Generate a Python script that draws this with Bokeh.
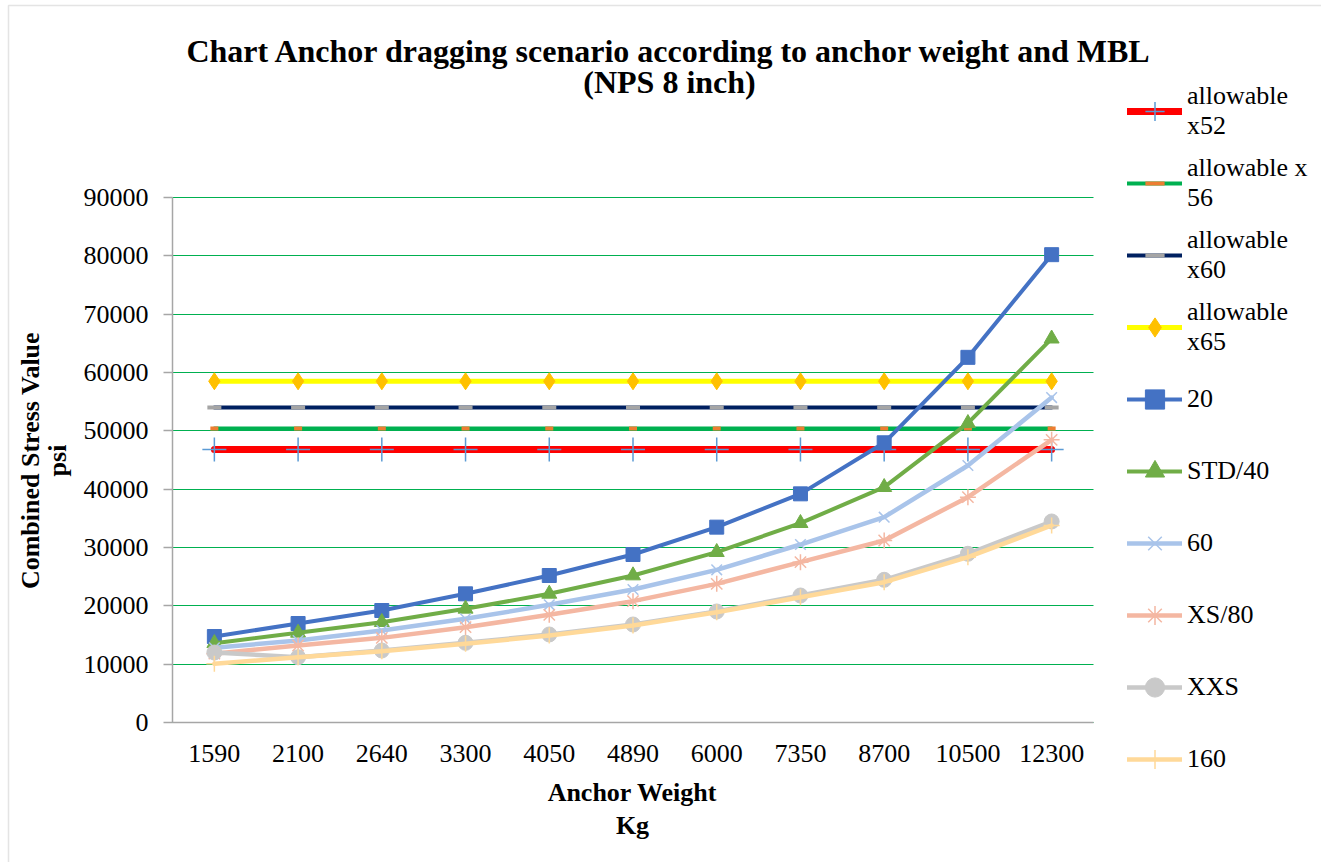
import math
from bokeh.plotting import figure
from bokeh.models import (ColumnDataSource, Range1d, Legend, LegendItem, FixedTicker, Label,
                          BoxAnnotation, Grid)
from bokeh.embed import file_html
from bokeh.resources import INLINE

# ---------------- data ----------------
anchor_weight = ["1590", "2100", "2640", "3300", "4050", "4890", "6000", "7350", "8700", "10500", "12300"]
allow_x52 = [46800] * 11
allow_x56 = [50400] * 11
allow_x60 = [54000] * 11
allow_x65 = [58500] * 11
s_20 = [14740, 16970, 19200, 22060, 25200, 28800, 33490, 39200, 47950, 62600, 80200]
s_std40 = [13600, 15370, 17200, 19490, 22060, 25200, 29200, 34170, 40340, 51310, 65800]
s_60 = [12800, 14060, 15770, 17770, 20170, 22800, 26170, 30510, 35200, 44060, 55700]
s_xs80 = [11800, 13200, 14510, 16340, 18460, 20800, 23770, 27490, 31200, 38630, 48460]
s_xxs = [12000, 11200, 12340, 13660, 15090, 16800, 19030, 21770, 24460, 28920, 34460]
s_160 = [10060, 11200, 12230, 13490, 14910, 16630, 18900, 21480, 24050, 28340, 33770]
y_ticks = [0, 10000, 20000, 30000, 40000, 50000, 60000, 70000, 80000, 90000]

FONT = "Liberation Serif"
W, H = 1321, 862
# plot area (pixels) inside the canvas
PL, PR, PT, PB = 172, 1093, 197, 722
n_cat = len(anchor_weight)
Y_MAX = y_ticks[-1]

xs_per_px = n_cat / (PR - PL)
ys_per_px = Y_MAX / (PB - PT)


def px2x(px):
    return (px - PL) * xs_per_px


def px2y(py):
    return (PB - py) * ys_per_px


# category centres on a numeric axis
x_pos = [i + 0.5 for i in range(n_cat)]

p = figure(width=W, height=H, x_range=Range1d(px2x(0), px2x(W)), y_range=Range1d(px2y(H), px2y(0)),
           output_backend="svg", toolbar_location=None,
           min_border_left=0, min_border_right=0, min_border_top=0, min_border_bottom=0)
p.outline_line_color = None
p.background_fill_color = "white"
p.border_fill_color = "white"

# axes
xa, ya = p.xaxis[0], p.yaxis[0]
for ax in (xa, ya):
    ax.axis_line_color = "#A6A6A6"
    ax.axis_line_width = 1.5
    ax.major_label_text_font = FONT
    ax.major_label_text_font_size = "26px"
    ax.major_label_text_color = "black"
    ax.minor_tick_line_color = None
    ax.fixed_location = 0

xa.ticker = FixedTicker(ticks=x_pos)
xa.major_label_overrides = {x: lab for x, lab in zip(x_pos, anchor_weight)}
xa.bounds = (0, n_cat)
xa.major_tick_line_color = None
xa.major_label_standoff = 16

ya.ticker = FixedTicker(ticks=y_ticks)
ya.bounds = (0, Y_MAX)
ya.major_tick_line_color = "#A6A6A6"
ya.major_tick_line_width = 1.5
ya.major_tick_out = 9
ya.major_tick_in = 0
ya.major_label_standoff = 15

# grid
p.xgrid.grid_line_color = None
gy = p.ygrid[0]
gy.ticker = ya.ticker
gy.grid_line_color = "#00B050"
gy.grid_line_width = 1
if "cross_bounds" in Grid.properties():
    gy.bounds = (0, Y_MAX)
    gy.cross_bounds = (0, n_cat)
else:
    gy.grid_line_color = None
    p.segment(x0=[0] * (len(y_ticks) - 1), x1=[n_cat] * (len(y_ticks) - 1), y0=y_ticks[1:], y1=y_ticks[1:],
              line_color="#00B050", line_width=1)

src = ColumnDataSource(dict(x=x_pos, x52=allow_x52, x56=allow_x56, x60=allow_x60, x65=allow_x65,
                            s20=s_20, std40=s_std40, s60=s_60, xs80=s_xs80, xxs=s_xxs, s160=s_160))

series = [
    # (col, label, line color, line width, marker, marker fill, marker line, size, marker lw)
    ("x52", "allowable\nx52", "#FF0000", 7, "cross", None, "#5B9BD5", 24, 1.5),
    ("x56", "allowable x\n56", "#00B050", 4, "dash", None, "#ED7D31", 8, 4),
    ("x60", "allowable\nx60", "#002060", 4, "dash", None, "#A5A5A5", 14, 4),
    ("x65", "allowable\nx65", "#FFFF00", 5, "diamond", "#FFC000", "#FFC000", 17, 1),
    ("s20", "20", "#4472C4", 4, "square", "#4472C4", "#4472C4", 14, 1),
    ("std40", "STD/40", "#70AD47", 4, "triangle", "#70AD47", "#70AD47", 15, 1),
    ("s60", "60", "#A9C4EA", 4.5, "x", None, "#A9C4EA", 15, 1.5),
    ("xs80", "XS/80", "#F4B7A2", 4.5, "asterisk", None, "#F4B7A2", 16, 1.5),
    ("xxs", "XXS", "#C9C9C9", 4.5, "circle", "#C9C9C9", "#C9C9C9", 15, 1),
    ("s160", "160", "#FFD999", 4.5, "cross", None, "#FFD999", 16, 1.5),
]

items = []
for col, label, lc, lw, mk, mfill, mline, ms, mlw in series:
    lr = p.line("x", col, source=src, line_color=lc, line_width=lw, line_cap="round", line_join="round")
    sr = p.scatter("x", col, source=src, marker=mk, size=ms, fill_color=mfill, line_color=mline,
                   line_width=mlw)
    items.append(LegendItem(label=label, renderers=[lr, sr]))

legend = Legend(items=items, location=(1127, 71), padding=0, margin=0, spacing=8,
                glyph_width=55, glyph_height=48, label_height=64, label_standoff=5,
                label_text_font="'Liberation Serif', 'Times New Roman', serif",
                label_text_font_size="26px", label_text_color="black",
                border_line_color=None, background_fill_alpha=0)
p.add_layout(legend, "center")

# chart area border
p.add_layout(BoxAnnotation(left=px2x(8), right=px2x(W + 20), top=px2y(5), bottom=px2y(H + 20),
                           fill_alpha=0, line_color="#A6A6A6", line_width=1.5))


def text(px, py, s, size, bold=False, angle=0.0):
    p.add_layout(Label(x=px2x(px), y=px2y(py), text=s, text_font=FONT, text_font_size=size,
                       text_font_style="bold" if bold else "normal", text_color="black",
                       text_align="center", text_baseline="middle", angle=angle))


text(669, 50, "Chart Anchor dragging scenario according to anchor weight and MBL", "32px", True)
text(669, 81, "(NPS 8 inch)", "32px", True)
text(632, 792, "Anchor Weight", "26px", True)
text(632, 825, "Kg", "26px", True)
text(30, 460, "Combined Stress Value", "26px", True, math.pi / 2)
text(57, 460, "psi", "26px", True, math.pi / 2)

open("out.html", "w").write(file_html(p, INLINE))
